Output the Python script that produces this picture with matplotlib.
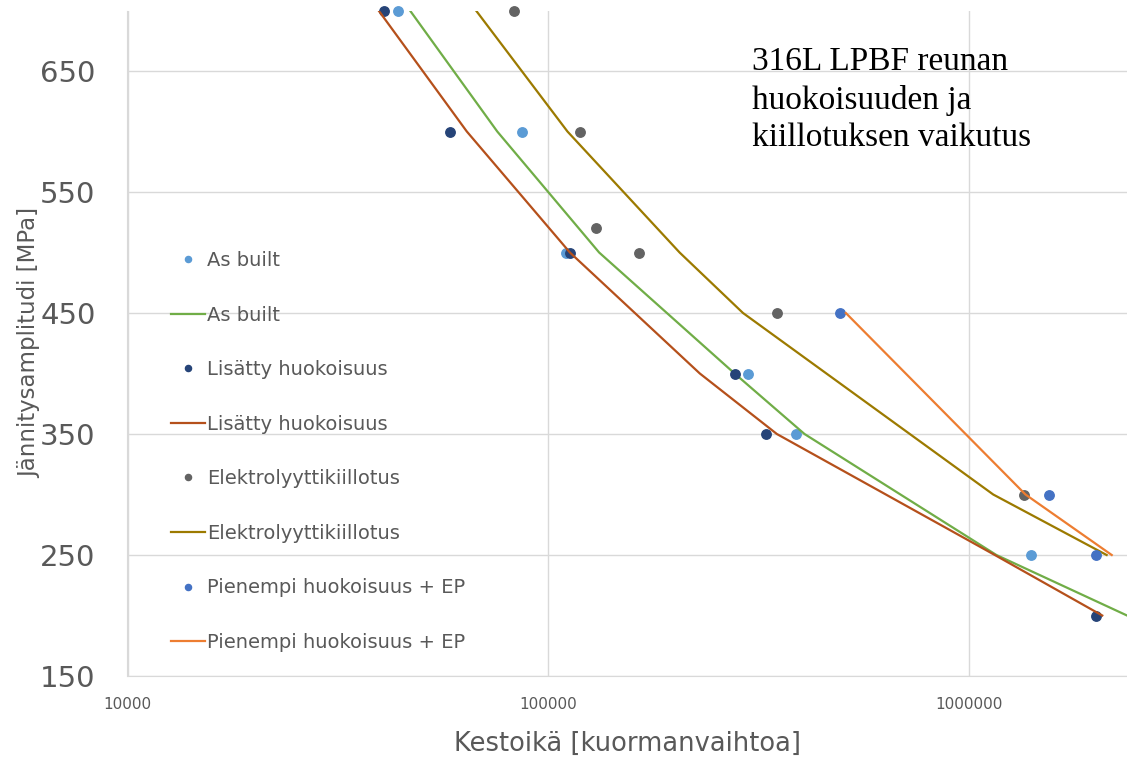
import matplotlib.pyplot as plt
import numpy as np

# measured points (cycles, MPa)
asbuilt_n = [43900, 86500, 110000, 298000, 387000, 1400000]
asbuilt_s = [700, 600, 500, 400, 350, 250]
porous_n = [40600, 58300, 112500, 277000, 329000, 2000000]
porous_s = [700, 600, 500, 400, 350, 200]
ep_n = [82800, 119000, 130000, 164000, 349000, 1350000]
ep_s = [700, 600, 520, 500, 450, 300]
lowp_n = [492000, 1550000, 2000000]
lowp_s = [450, 300, 250]

# trend lines
asbuilt_ln = [46900, 75600, 132000, 277000, 406000, 1160000, 2370000]
asbuilt_ls = [700, 600, 500, 400, 350, 250, 200]
porous_ln = [39500, 64000, 112500, 229000, 349000, 1150000, 2070000]
porous_ls = [700, 600, 500, 400, 350, 250, 200]
ep_ln = [67300, 111000, 205000, 290000, 1140000, 2120000]
ep_ls = [700, 600, 500, 450, 300, 250]
lowp_ln = [509000, 1360000, 2180000]
lowp_ls = [450, 300, 250]

c_ab = "#5B9BD5"
c_po = "#264478"
c_ep = "#636363"
c_lp = "#4472C4"

fig = plt.figure(figsize=(11.27, 7.57), dpi=100)
ax = fig.add_axes([127.5 / 1127, 81 / 757, 1 - 127.5 / 1127, (676 - 10.5) / 757])

ax.set_xscale("log")
ax.set_xlim(10000, 2370000)
ax.set_ylim(150, 700)
ax.set_yticks([150, 250, 350, 450, 550, 650])
ax.set_xticks([10000, 100000, 1000000])
ax.set_xticklabels(["10000", "100000", "1000000"])
ax.minorticks_off()
ax.grid(True, color="#D9D9D9", linewidth=1)
ax.set_axisbelow(True)
for s in ["top", "right"]:
    ax.spines[s].set_visible(False)
for s in ["left", "bottom"]:
    ax.spines[s].set_color("#D9D9D9")
ax.tick_params(length=0, colors="#595959")
ax.tick_params(axis="y", labelsize=21, pad=23)
ax.tick_params(axis="x", labelsize=11, pad=15)

ms = 6.8
h1, = ax.plot(asbuilt_n, asbuilt_s, "o", color=c_ab, ms=ms, label="As built")
h2, = ax.plot(asbuilt_ln, asbuilt_ls, color="#70AD47", lw=1.6, label="As built")
h3, = ax.plot(porous_n, porous_s, "o", color=c_po, ms=ms, label="Lisätty huokoisuus")
h4, = ax.plot(porous_ln, porous_ls, color="#B5501B", lw=1.6, label="Lisätty huokoisuus")
h5, = ax.plot(ep_n, ep_s, "o", color=c_ep, ms=ms, label="Elektrolyyttikiillotus")
h6, = ax.plot(ep_ln, ep_ls, color="#9C7A00", lw=1.6, label="Elektrolyyttikiillotus")
h7, = ax.plot(lowp_n, lowp_s, "o", color=c_lp, ms=ms, label="Pienempi huokoisuus + EP")
h8, = ax.plot(lowp_ln, lowp_ls, color="#ED7D31", lw=1.6, label="Pienempi huokoisuus + EP")

for h in [h1, h3, h5, h7]:
    h.set_clip_on(False)

leg = ax.legend(handles=[h1, h2, h3, h4, h5, h6, h7, h8],
                loc="upper left", bbox_to_anchor=(0.026, 0.665),
                frameon=False, fontsize=14, labelspacing=1.83,
                handlelength=1.75, handletextpad=0.12, markerscale=0.65)
for t in leg.get_texts():
    t.set_color("#595959")

ax.set_xlabel("Kestoikä [kuormanvaihtoa]", fontsize=18.5, color="#595959", labelpad=14)
ax.set_ylabel("Jännitysamplitudi [MPa]", fontsize=16.5, color="#595959")
ax.yaxis.set_label_coords(-0.086, 0.5)

fig.text(752 / 1127, 1 - 47 / 757, "316L LPBF reunan\nhuokoisuuden ja\nkiillotuksen vaikutus",
         family="Liberation Serif", fontsize=24, va="top", ha="left",
         linespacing=1.3, color="black")

fig.savefig("out.png", dpi=100)
